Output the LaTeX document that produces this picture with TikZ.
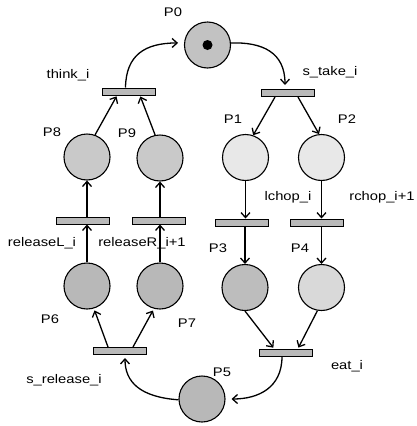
\documentclass[tikz,border=0pt]{standalone}
\usepackage{fontspec}
\setmainfont{Liberation Sans}
\usepackage{graphicx}
\usetikzlibrary{arrows.meta}
\newcommand{\lbl}[1]{\scalebox{1.18}[1]{#1}}
\tikzset{
  place/.style={circle,draw=black,line width=1.1pt,minimum size=46pt,inner sep=0pt},
  trans/.style={rectangle,draw=black,line width=1pt,fill=gray!55,minimum width=53pt,minimum height=7pt,inner sep=0pt},
  arr/.style={line width=1.3pt,-{Straight Barb[length=5pt,width=9pt,line width=1.3pt]}},
  txt/.style={font=\fontsize{12.5}{14}\selectfont,inner sep=0pt}
}
\begin{document}
\begin{tikzpicture}[x=1pt,y=-1pt]
\useasboundingbox (0,0) rectangle (417,426);
% places
\node[place,fill=gray!48] (P0) at (207.5,45) {};
\node[circle,fill=black,minimum size=10pt,inner sep=0pt] (tok) at (P0) {};
\node[place,fill=gray!42] (P8) at (87,157) {};
\node[place,fill=gray!42] (P9) at (160,158) {};
\node[place,fill=gray!18] (P1) at (245.5,157.5) {};
\node[place,fill=gray!18] (P2) at (321.5,157.5) {};
\node[place,fill=gray!52] (P3) at (245,287.5) {};
\node[place,fill=gray!30] (P4) at (321.5,287.5) {};
\node[place,fill=gray!56] (P6) at (87,286) {};
\node[place,fill=gray!56] (P7) at (160,286) {};
\node[place,fill=gray!56] (P5) at (202,399) {};
% transitions
\node[trans] (think) at (128.5,91.5) {};
\node[trans] (stake) at (287.5,93) {};
\node[trans] (relL) at (82.5,220.5) {};
\node[trans] (relR) at (158.5,220.5) {};
\node[trans] (lchop) at (241.5,222.5) {};
\node[trans] (rchop) at (317,222.5) {};
\node[trans] (eat) at (286,352.5) {};
\node[trans] (srel) at (120,351) {};
% labels
\node[txt] (lP0) at (173,12) {\lbl{P0}};
\node[txt] (lP8) at (52,132) {\lbl{P8}};
\node[txt] (lP9) at (127,133) {\lbl{P9}};
\node[txt] (lP1) at (233,119) {\lbl{P1}};
\node[txt] (lP2) at (347,119) {\lbl{P2}};
\node[txt] (lP3) at (218,248) {\lbl{P3}};
\node[txt] (lP4) at (300,248) {\lbl{P4}};
\node[txt] (lP6) at (50,319) {\lbl{P6}};
\node[txt] (lP7) at (187,323) {\lbl{P7}};
\node[txt] (lP5) at (222,372) {\lbl{P5}};
\node[txt,anchor=base] (lthink) at (68,78) {\lbl{think\_i}};
\node[txt,anchor=base] (lstake) at (330,75) {\lbl{s\_take\_i}};
\node[txt,anchor=base] (llchop) at (288,200) {\lbl{lchop\_i}};
\node[txt,anchor=base] (lrchop) at (382,200) {\lbl{rchop\_i+1}};
\node[txt,anchor=base] (lrelL) at (42,246) {\lbl{releaseL\_i}};
\node[txt,anchor=base] (lrelR) at (142,246) {\lbl{releaseR\_i+1}};
\node[txt,anchor=base] (leat) at (347,369) {\lbl{eat\_i}};
\node[txt,anchor=base] (lsrel) at (64,383) {\lbl{s\_release\_i}};
% arcs
\draw[arr,shorten >=6pt] ([xshift=-3pt]think.north) .. controls (126,55) and (145,43) .. (P0.175);
\draw[arr,shorten >=4pt] (P0.5) .. controls (262,42) and (285,52) .. ([xshift=-2.5pt]stake.north);
\draw[arr] ([xshift=-12.5pt]stake.south) -- (P1.71);
\draw[arr] ([xshift=10.5pt]stake.south) -- (P2.96);
\draw[arr] (P1.south) -- (P1.south |- lchop.north);
\draw[arr] (P2.south) -- (P2.south |- rchop.north);
\draw[arr] (lchop.south -| P3.north) -- (P3.north);
\draw[arr] (rchop.south -| P4.north) -- (P4.north);
\draw[arr,shorten >=1pt] (P3.south) -- ([xshift=-12pt]eat.north);
\draw[arr,shorten >=1pt] (P4.-100) -- ([xshift=12pt]eat.north);
\draw[arr,shorten >=6pt] ([xshift=-4pt]eat.south) .. controls (282,388) and (258,399) .. (P5.east);
\draw[arr,shorten >=3pt] (P5.182) .. controls (140,397) and (125,382) .. ([xshift=5pt]srel.south);
\draw[arr,shorten >=2pt] ([xshift=-12pt]srel.north) -- (P6.-73);
\draw[arr,shorten >=2pt] ([xshift=13pt]srel.north) -- (P7.-105);
\draw[arr] (P6.north) -- (P6.north |- relL.south);
\draw[arr] (P7.north) -- (P7.north |- relR.south);
\draw[arr] (relL.north -| P8.south) -- (P8.south);
\draw[arr] (relR.north -| P9.south) -- (P9.south);
\draw[arr,shorten >=1pt] (P8.70) -- ([xshift=-11.5pt]think.south);
\draw[arr,shorten >=1pt] (P9.102) -- ([xshift=11.5pt]think.south);
\end{tikzpicture}
\end{document}
